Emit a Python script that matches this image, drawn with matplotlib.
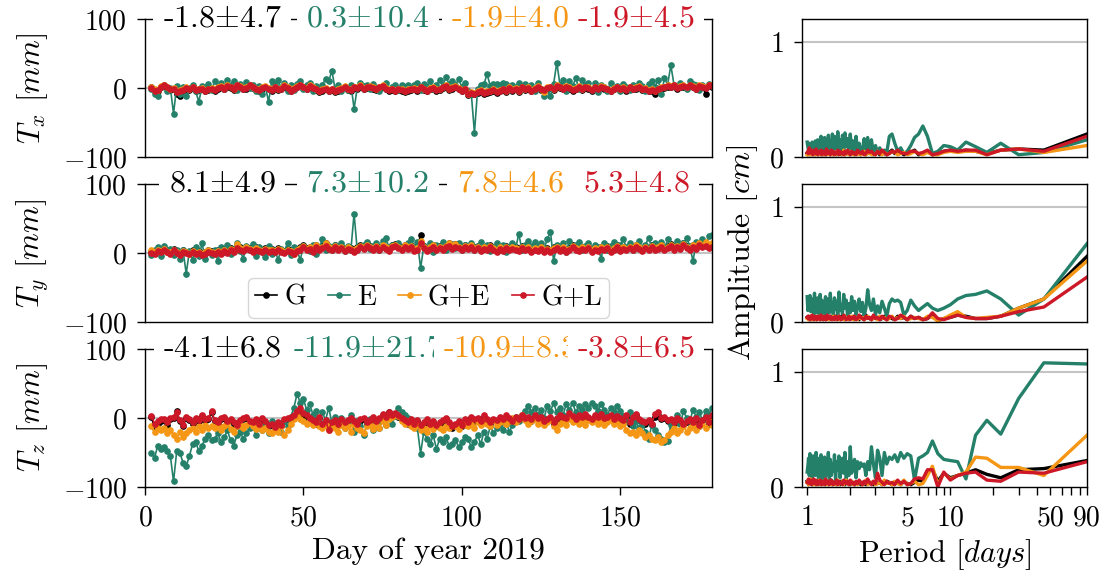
import numpy as np
import matplotlib
matplotlib.use("Agg")
import matplotlib.pyplot as plt
from matplotlib.ticker import FixedLocator, FixedFormatter, NullLocator

plt.rcParams.update({
    "font.family": "serif",
    "font.serif": ["cmr10"],
    "mathtext.fontset": "cm",
    "axes.formatter.use_mathtext": True,
    "font.size": 20,
    "axes.linewidth": 1.0,
})

labels = ["G", "E", "G+E", "G+L"]
colors = ["black", "#25806a", "#f59614", "#cd1828"]
first_day = 2

# ---- daily translations [mm], day 2 .. 179 ----
tx_g = [2, -3, -4, 1, 3, 0, -3, -2, -8, -11, -4, -1, -3, 0, -4, -3, -2, -5, -3, -2,
        -4, -1, 1, -2, 2, 0, -3, 3, 1, -2, -1, 4, 0, -3, -4, -1, 1, -2, -4, 0,
        -3, -2, 2, -1, -5, -2, 1, 4, 0, -2, 2, -1, -3, -6, -4, -2, -5, -3, -6, -4,
        -2, 1, -3, -4, 0, -1, 2, -2, 0, 1, -1, -3, 0, 2, -2, -4, -3, -5, -3, -4,
        -6, -4, -3, -2, -4, 0, -3, -5, -2, -1, -4, -3, 0, 2, -3, -1, 1, -2, -5, -3,
        -10, -8, -9, -7, -5, -8, -7, -6, -4, -7, -5, -3, -6, -1, -4, -2, -6, 0, -3, -1,
        -5, -2, 1, -3, -4, -1, 0, -3, 2, 0, -2, 1, -1, -4, -2, 1, -3, 0, -1, -4,
        0, -2, 1, -1, -3, -5, -2, 0, -3, -1, -4, 0, -2, -1, 1, -3, -2, -5, -4, -9,
        -3, -1, 0, 2, 1, 3, -1, 1, 2, 0, 3, 1, -2, 2, 1, -8, 3, 2]
tx_e = [-2, -8, -12, 2, 5, -5, 0, -37, 3, -8, 2, -12, 0, 5, -5, -20, 3, 0, 6, -3,
        10, 2, 8, -2, 12, 4, 10, -3, 6, 2, 9, 0, 5, -4, 3, -8, 2, -20, 10, 5,
        11, 0, 8, -5, 4, -3, 6, 10, -2, 5, 8, -4, 3, 0, 5, 13, 10, 25, -2, 4,
        -5, 2, -3, 5, -30, 0, 8, 3, 5, -2, 6, 0, -4, 3, 8, -1, 2, 5, -3, 4,
        1, 5, -2, 4, 8, -3, 6, 2, 10, -1, 4, 12, 3, 16, 6, 10, 4, 13, 2, 7,
        -5, -8, -65, -2, 4, 6, 20, 3, 6, 6, 5, 8, 6, -3, 5, 2, 8, -2, 6, 0,
        4, -5, 8, -2, -12, -3, -12, 6, 37, 5, 12, -4, 10, 3, 14, -2, 12, 5, 8, -3,
        8, -6, 4, 2, -5, 8, 0, 3, -4, 6, 2, -3, 5, 0, 8, 3, -4, 6, 10, 2,
        12, -8, 14, 5, 33, 5, 2, 8, 3, -2, 10, 6, 4, -3, 5, 2, 6, 3]
tx_ge = [1, -2, -3, 3, 5, 2, -1, 0, -4, -3, -2, 1, -1, 2, -2, -1, 0, -3, -1, 0,
         -2, 1, 3, 0, 4, 2, -1, 5, 3, 0, 1, 5, 2, -1, -2, 1, 3, 0, -2, 2,
         -1, 0, 4, 1, -3, 0, 3, 5, 2, 0, 4, 1, -1, -4, -2, 0, -3, -1, -4, -2,
         0, 3, -1, -2, 2, 1, 4, 0, 2, 3, 1, -1, 2, 4, 0, -2, -1, -3, -1, -2,
         -4, -2, -1, 0, -2, 2, -1, -3, 0, 1, -2, -1, 2, 4, -1, 1, 3, 0, -3, -1,
         -8, -6, -7, -5, -3, -6, -5, -4, -2, -5, -3, -1, -4, 1, -2, 0, -4, 2, -1, 1,
         -3, 0, 3, -1, -6, 1, 2, -1, 4, 2, 0, 3, 1, -2, 0, 3, -1, 2, 1, -2,
         2, 0, 3, 1, -1, -3, 0, 2, -1, 1, -2, 2, 0, 1, 3, -1, 0, -3, -2, -4,
         -1, 1, 2, 4, 3, 5, 1, 3, 4, 2, 5, 3, 0, 4, 3, 1, 5, 4]
tx_gl = [0, -4, -3, 2, 4, 1, -2, -1, -6, -5, -3, 0, -2, 1, -3, -2, -1, -4, -2, -1,
         -3, 0, 2, -1, 3, 1, -2, 4, 2, -1, 0, 5, 1, -2, -3, 0, 2, -1, -3, 1,
         -2, -1, 3, 0, -4, -1, 2, 5, 1, -1, 3, 0, -2, -5, -3, -1, -4, -2, -5, -3,
         -1, 2, -2, -3, 1, 0, 3, -1, 1, 2, 0, -2, 1, 3, -1, -3, -2, -4, -2, -3,
         -5, -3, -2, -1, -3, 1, -2, -4, -1, 0, -3, -2, 1, 3, -2, 0, 2, -1, -4, -2,
         -9, -7, -8, -6, -4, -7, -6, -5, -3, -6, -4, -2, -5, 0, -3, -1, -5, 1, -2, 0,
         -4, -1, 2, -2, -3, 0, 1, -2, 3, 1, -1, 2, 0, -3, -1, 2, -2, 1, 0, -3,
         1, -1, 2, 0, -2, -4, -1, 1, -2, 0, -3, 1, -1, 0, 2, -2, -1, -4, -3, -5,
         -2, 0, 1, 3, 2, 4, 0, 2, 3, 1, 4, 2, -1, 3, 2, 0, 4, 3]

ty_g = [2, 0, 6, 4, 7, 3, 2, 6, 3, -1, 4, 2, 0, 4, 1, 3, 0, 2, 5, 3,
        1, 4, 2, 6, 3, 7, 5, 10, 8, 6, 9, 7, 5, 8, 6, 4, 7, 5, 6, 4,
        7, 5, 3, 6, 4, 1, 6, 8, 11, 7, 9, 5, 12, 8, 10, 14, 9, 7, 11, 8,
        10, 6, 9, 7, 5, 8, 11, 9, 14, 10, 7, 11, 8, 12, 9, 6, 11, 13, 10, 8,
        12, 9, 11, 6, 8, 26, 10, 6, 9, 12, 7, 10, 8, 11, 14, 9, 13, 10, 7, 11,
        9, 12, 8, 10, 6, 9, 7, 11, 8, 5, 9, 6, 10, 7, 9, 8, 6, 10, 7, 9,
        5, 8, 6, 9, 4, 7, 5, 8, 10, 6, 9, 5, 7, 11, 8, 6, 9, 7, 10, 5,
        8, 6, 9, 7, 10, 4, 8, 11, 6, 9, 7, 10, 8, 12, 9, 6, 10, 7, 11, 8,
        9, 12, 7, 10, 13, 8, 11, 9, 14, 10, 7, 12, 9, 15, 11, 13, 10, 12]
ty_e = [-3, 5, 8, -5, 10, 2, 6, -3, 5, -8, 4, -30, 3, -10, 8, -5, 14, -8, 2, -3,
        5, -12, 8, 2, 12, -2, 6, 15, 3, -8, 10, 4, 13, -4, 8, 2, -6, 10, -2, 5,
        -10, 6, 2, 15, -3, 8, 4, -10, 10, 6, 3, 12, -2, 8, 20, 5, 10, 4, 12, 8,
        15, 3, 10, 5, 57, 4, 8, 12, 16, 6, 10, 14, 5, 18, 22, 8, 12, 10, 15, 6,
        10, 14, 20, 8, 16, -22, 10, 6, 14, 2, 12, 8, 16, 4, 10, 13, 7, 15, 5, 12,
        8, 14, 4, 10, 16, 6, 12, 3, 9, 15, 5, 11, 2, 8, 14, 6, 28, 4, 12, 18,
        10, 16, 8, 14, 6, 20, 31, -12, 12, 6, 14, 2, 18, 8, 12, 16, 4, 10, 14, 6,
        12, 8, -8, 14, 4, 10, 16, 6, 12, 20, 8, 14, 4, 10, 18, 6, 12, 22, 8, 14,
        10, 16, 6, 20, 12, 8, 18, 8, 14, 22, 10, -12, 16, 12, 20, 10, 24, 26]
ty_ge = [4, 1, 5, 3, 6, 2, 1, 5, 2, -2, 3, 1, -1, 3, 0, 2, -1, 1, 4, 2,
         0, 3, 1, 5, 2, 6, 4, 13, 7, 5, 8, 6, 4, 7, 5, 3, 6, 4, 5, 3,
         6, 4, 2, 5, 3, -1, 5, 7, 10, 6, 8, 4, 11, 7, 9, 15, 8, 6, 10, 7,
         9, 5, 8, 6, 4, 7, 10, 8, 12, 9, 6, 10, 7, 11, 8, 5, 10, 12, 9, 7,
         11, 8, 10, 5, 7, 18, 9, 5, 8, 11, 6, 9, 7, 10, 14, 8, 13, 9, 6, 10,
         8, 11, 7, 9, 5, 8, 6, 10, 7, 4, 8, 5, 9, 6, 8, 7, 5, 9, 6, 8,
         4, 7, 5, 8, 3, 6, 4, 7, 9, 5, 8, 4, 6, 10, 7, 5, 8, 6, 9, 4,
         7, 5, 8, 6, 9, 3, 7, 10, 5, 8, 6, 9, 7, 11, 8, 5, 9, 6, 10, 7,
         8, 11, 6, 9, 12, 7, 10, 8, 13, 9, 6, 11, 8, 14, 10, 16, 9, 15]
ty_gl = [0, -2, 3, 2, 5, 1, -1, 4, 0, -3, 2, 0, -2, 1, -2, 0, -3, -1, 2, 0,
         -2, 1, -1, 3, 0, 4, 2, 7, 5, 3, 6, 4, 2, 5, 3, 1, 4, 2, 3, 1,
         4, 2, 0, 3, 1, -2, 3, 5, 8, 4, 6, 2, 9, 5, 7, 10, 6, 4, 8, 5,
         7, 3, 6, 4, 2, 5, 8, 6, 10, 7, 4, 8, 5, 9, 6, 3, 8, 10, 7, 5,
         9, 6, 8, 3, 5, 15, 7, 3, 6, 9, 4, 7, 5, 8, 10, 6, 9, 7, 4, 8,
         6, 9, 5, 7, 3, 6, 4, 8, 5, 2, 6, 3, 7, 4, 6, 5, 3, 7, 4, 6,
         2, 5, 3, 6, 1, 4, 2, 5, 7, 3, 6, 2, 4, 8, 5, 3, 6, 4, 7, 2,
         5, 3, 6, 4, 7, 1, 5, 8, 3, 6, 4, 7, 5, 9, 6, 3, 7, 4, 8, 5,
         6, 9, 4, 7, 10, 5, 8, 6, 11, 7, 4, 9, 6, 12, 8, 10, 7, 9]

tz_g = [2, -15, -8, -5, -3, -10, -2, 0, 10, -5, -12, 0, -3, -8, -2, -5, 3, -4, -2, 8,
        -5, -8, -2, 0, -6, -3, -8, -12, -5, -2, 0, -6, -8, -4, -10, -2, -6, -12, -10, -15,
        -8, -12, -4, -2, 0, 2, 8, 10, 5, 2, -2, -5, -8, 0, -10, -5, -15, -8, -5, -10,
        -3, -8, -5, -2, -6, -10, -4, -2, -8, -5, -1, -6, -2, 5, 0, 8, 3, 6, 2, -2,
        -5, -8, -3, -10, -5, -12, -8, -4, -10, -6, -12, -8, -5, -2, -8, -15, -10, -6, -12, -4,
        -8, 0, -4, -2, -6, 2, -4, -8, -3, -5, 0, -4, 2, -2, -6, -1, -3, 3, -2, 0,
        -4, 2, -2, 0, -6, -3, -1, -8, -2, 3, 0, -2, 5, 1, -3, 2, -1, 4, 0, -3,
        2, -1, 4, -2, 0, 3, -4, 1, -2, -5, 2, -8, 0, 4, -3, -6, -8, -5, -10, 2,
        4, -2, 0, -5, -3, -8, -2, -5, -10, -6, -3, -8, -2, -12, -5, 0, -8, 3]
tz_e = [-50, -58, -40, -45, -42, -48, -55, -92, -48, -50, -65, -70, -55, -38, -35, -48, -40, -30, -25, -32,
        -30, -22, -35, -28, -18, -32, -40, -25, -20, -30, -22, -15, -10, -25, -8, -18, -12, -22, -5, -15,
        -10, -20, -5, -12, 2, 15, 35, 22, 28, 12, 20, 5, 10, -5, 8, -3, 15, -8, 2, -10,
        0, -15, -8, 5, -20, -5, -12, -25, -10, -2, -18, -5, -15, 0, -10, 5, -8, 3, 15, 8,
        5, 0, -3, -10, -15, -52, -20, -30, -38, -25, -45, -30, -35, -28, -40, -38, -32, -42, -35, -28,
        -30, -42, -35, -25, -38, -20, -30, -12, -22, -15, -8, -18, -5, -20, -10, 2, -5, 5, 10, 18,
        8, 15, 5, 12, 0, 18, 10, 22, 8, 15, 5, 20, 12, 22, 8, 18, 12, 20, 15, 22,
        18, 10, 20, 12, 5, 15, 8, 18, 10, 3, -5, 8, -12, -5, -15, -8, -20, -30, -10, -18,
        -25, -30, -35, -33, -10, -5, 5, -8, 10, 0, -5, 12, 2, 8, -3, 10, 5, 15]
tz_ge = [-12, -20, -15, -18, -14, -22, -18, -25, -30, -20, -28, -22, -18, -15, -20, -12, -18, -10, -15, -12,
         -14, -10, -18, -12, -8, -16, -20, -12, -8, -14, -10, -6, -12, -16, -10, -18, -14, -20, -22, -16,
         -20, -12, -25, -18, -8, -2, 5, -2, -5, -8, -3, -10, -6, -12, -15, -10, -18, -8, -14, -20,
         -10, -15, -12, -20, -8, -14, -18, -22, -12, -10, -16, -8, -14, -5, -10, -2, 2, 5, 3, -5,
         -8, -5, -12, -15, -10, -18, -14, -20, -12, -16, -10, -14, -18, -12, -15, -10, -12, -16, -8, -10,
         -12, -8, -14, -6, -10, -5, -8, -12, -3, -10, -6, -2, -8, -4, 0, -6, -2, 5, -3, -8,
         -5, -2, -8, -4, -10, -6, -3, -12, -18, -8, -4, -10, -2, -6, -3, -8, -5, -10, -3, -6,
         -2, -8, -4, -10, -6, -3, -9, -5, -12, -8, -18, -22, -20, -25, -18, -22, -28, -25, -30, -32,
         -28, -35, -32, -25, -20, -15, -22, -18, -12, -20, -15, -10, -18, -12, -8, -15, -5, -10]
tz_gl = [3, -8, -5, -2, -1, -6, 0, 2, 8, -3, -10, 1, -2, -6, 0, -3, 4, -2, 0, 10,
         -3, -6, 0, 2, -4, -1, -6, -10, -3, 0, 2, -4, -6, -2, -8, 0, -4, -10, -8, -13,
         -6, -10, -2, 0, 2, 5, 10, 14, 7, 4, 0, -3, -6, 2, -8, -3, -18, -6, -3, -8,
         -1, -6, -3, 0, -4, -8, -2, 0, -6, -3, 1, -4, 0, 6, 2, 9, 5, 7, 4, 0,
         -3, -6, -1, -8, -3, -10, -6, -2, -8, -4, -10, -6, -3, 0, -6, -12, -8, -4, -10, -2,
         -6, 2, -2, 0, -4, 4, -2, -6, -1, -3, 2, -2, 4, 0, -4, 1, -1, 5, 0, 2,
         -2, 4, 0, 2, -4, -1, 1, -6, 0, 5, 2, 0, 7, 3, -1, 4, 1, 6, 2, -1,
         4, 1, 6, 0, 2, 5, -2, 3, 0, -3, 4, -6, 2, 6, -1, -4, -6, -3, -8, 6,
         8, 0, 2, -3, -1, -6, 0, -3, -8, -4, -1, -6, 0, -10, -3, 2, -6, 5]

titles = [["-1.8$\\pm$4.7", "0.3$\\pm$10.4", "-1.9$\\pm$4.0", "-1.9$\\pm$4.5"],
          ["8.1$\\pm$4.9", "7.3$\\pm$10.2", "7.8$\\pm$4.6", "5.3$\\pm$4.8"],
          ["-4.1$\\pm$6.8", "-11.9$\\pm$21.7", "-10.9$\\pm$8.3", "-3.8$\\pm$6.5"]]

# ---- amplitude spectra [cm], harmonic k = 1..90 of a 90 day window ----
base_period = 90.0
ax_g = [0.20, 0.06, 0.07, 0.06, 0.03, 0.05, 0.06, 0.05, 0.06, 0.05,
        0.03, 0.02, 0.05, 0.03, 0.02, 0.06, 0.04, 0.03, 0.02, 0.04,
        0.05, 0.03, 0.06, 0.04, 0.02, 0.03, 0.05, 0.02, 0.04, 0.03,
        0.02, 0.04, 0.03, 0.05, 0.02, 0.03, 0.04, 0.02, 0.03, 0.05,
        0.03, 0.02, 0.04, 0.03, 0.02, 0.04, 0.03, 0.05, 0.02, 0.03,
        0.04, 0.02, 0.03, 0.05, 0.03, 0.02, 0.04, 0.03, 0.02, 0.04,
        0.03, 0.02, 0.05, 0.03, 0.04, 0.02, 0.03, 0.04, 0.02, 0.03,
        0.05, 0.02, 0.03, 0.04, 0.02, 0.03, 0.05, 0.03, 0.02, 0.04,
        0.03, 0.02, 0.04, 0.03, 0.05, 0.02, 0.03, 0.04, 0.02, 0.03]
ax_e = [0.15, 0.04, 0.02, 0.12, 0.04, 0.09, 0.13, 0.06, 0.09, 0.10,
        0.05, 0.03, 0.18, 0.27, 0.20, 0.17, 0.10, 0.05, 0.03, 0.08,
        0.05, 0.12, 0.20, 0.18, 0.04, 0.06, 0.03, 0.08, 0.04, 0.10,
        0.03, 0.15, 0.05, 0.17, 0.04, 0.16, 0.06, 0.03, 0.12, 0.05,
        0.18, 0.04, 0.14, 0.07, 0.20, 0.05, 0.16, 0.09, 0.21, 0.06,
        0.19, 0.04, 0.15, 0.08, 0.22, 0.05, 0.12, 0.18, 0.07, 0.20,
        0.04, 0.14, 0.09, 0.19, 0.06, 0.11, 0.03, 0.17, 0.08, 0.13,
        0.05, 0.18, 0.07, 0.12, 0.04, 0.15, 0.09, 0.06, 0.14, 0.03,
        0.11, 0.07, 0.13, 0.05, 0.10, 0.04, 0.12, 0.06, 0.09, 0.13]
ax_ge = [0.10, 0.04, 0.07, 0.06, 0.02, 0.05, 0.05, 0.04, 0.05, 0.04,
         0.02, 0.02, 0.04, 0.02, 0.03, 0.05, 0.03, 0.02, 0.04, 0.03,
         0.02, 0.04, 0.05, 0.03, 0.02, 0.04, 0.02, 0.03, 0.05, 0.02,
         0.03, 0.02, 0.04, 0.03, 0.02, 0.05, 0.03, 0.02, 0.04, 0.02,
         0.03, 0.04, 0.02, 0.03, 0.05, 0.02, 0.03, 0.04, 0.02, 0.06,
         0.02, 0.03, 0.04, 0.02, 0.03, 0.05, 0.02, 0.04, 0.03, 0.02,
         0.04, 0.02, 0.03, 0.05, 0.02, 0.03, 0.04, 0.02, 0.03, 0.02,
         0.04, 0.03, 0.02, 0.05, 0.03, 0.02, 0.04, 0.02, 0.03, 0.04,
         0.02, 0.03, 0.05, 0.02, 0.04, 0.03, 0.02, 0.04, 0.03, 0.02]
ax_gl = [0.18, 0.05, 0.07, 0.06, 0.02, 0.06, 0.06, 0.05, 0.06, 0.05,
         0.03, 0.02, 0.06, 0.04, 0.03, 0.05, 0.05, 0.03, 0.03, 0.04,
         0.06, 0.04, 0.05, 0.03, 0.02, 0.04, 0.06, 0.03, 0.05, 0.02,
         0.03, 0.05, 0.04, 0.06, 0.03, 0.02, 0.05, 0.03, 0.04, 0.06,
         0.02, 0.04, 0.03, 0.05, 0.02, 0.04, 0.06, 0.03, 0.05, 0.02,
         0.04, 0.03, 0.05, 0.02, 0.06, 0.03, 0.04, 0.02, 0.05, 0.03,
         0.06, 0.02, 0.04, 0.05, 0.03, 0.07, 0.02, 0.04, 0.03, 0.05,
         0.02, 0.06, 0.03, 0.04, 0.05, 0.02, 0.04, 0.07, 0.03, 0.05,
         0.04, 0.02, 0.06, 0.03, 0.05, 0.04, 0.08, 0.03, 0.05, 0.04]

ay_g = [0.57, 0.20, 0.12, 0.05, 0.03, 0.03, 0.05, 0.06, 0.04, 0.03,
        0.01, 0.06, 0.03, 0.02, 0.04, 0.03, 0.05, 0.02, 0.04, 0.03,
        0.05, 0.02, 0.03, 0.04, 0.02, 0.05, 0.03, 0.02, 0.04, 0.03,
        0.05, 0.02, 0.03, 0.04, 0.06, 0.02, 0.03, 0.05, 0.02, 0.04,
        0.03, 0.02, 0.05, 0.03, 0.04, 0.02, 0.03, 0.05, 0.02, 0.04,
        0.03, 0.05, 0.02, 0.04, 0.03, 0.02, 0.05, 0.03, 0.04, 0.02,
        0.03, 0.05, 0.02, 0.04, 0.03, 0.05, 0.02, 0.03, 0.04, 0.02,
        0.05, 0.03, 0.02, 0.04, 0.03, 0.05, 0.02, 0.04, 0.03, 0.02,
        0.04, 0.03, 0.05, 0.02, 0.03, 0.04, 0.02, 0.05, 0.03, 0.04]
ay_e = [0.68, 0.20, 0.06, 0.20, 0.27, 0.24, 0.23, 0.20, 0.15, 0.12,
        0.10, 0.12, 0.16, 0.13, 0.10, 0.14, 0.19, 0.10, 0.06, 0.17,
        0.19, 0.18, 0.20, 0.16, 0.05, 0.12, 0.18, 0.08, 0.14, 0.06,
        0.20, 0.10, 0.15, 0.28, 0.12, 0.05, 0.17, 0.09, 0.20, 0.13,
        0.06, 0.18, 0.10, 0.22, 0.08, 0.16, 0.05, 0.19, 0.12, 0.24,
        0.07, 0.15, 0.10, 0.26, 0.06, 0.18, 0.11, 0.21, 0.05, 0.17,
        0.09, 0.25, 0.08, 0.14, 0.20, 0.06, 0.22, 0.12, 0.16, 0.05,
        0.19, 0.10, 0.24, 0.07, 0.15, 0.21, 0.08, 0.18, 0.11, 0.25,
        0.06, 0.20, 0.13, 0.17, 0.09, 0.23, 0.14, 0.18, 0.10, 0.22]
ay_ge = [0.53, 0.20, 0.12, 0.05, 0.04, 0.03, 0.04, 0.09, 0.06, 0.03,
         0.01, 0.04, 0.05, 0.02, 0.03, 0.04, 0.03, 0.02, 0.05, 0.03,
         0.04, 0.02, 0.05, 0.03, 0.02, 0.04, 0.03, 0.05, 0.02, 0.04,
         0.03, 0.02, 0.04, 0.05, 0.03, 0.02, 0.04, 0.03, 0.05, 0.02,
         0.04, 0.03, 0.02, 0.05, 0.03, 0.04, 0.02, 0.03, 0.05, 0.02,
         0.04, 0.03, 0.02, 0.05, 0.03, 0.02, 0.04, 0.03, 0.05, 0.02,
         0.03, 0.04, 0.02, 0.05, 0.03, 0.02, 0.04, 0.03, 0.02, 0.05,
         0.03, 0.04, 0.02, 0.03, 0.05, 0.02, 0.04, 0.03, 0.02, 0.04,
         0.05, 0.02, 0.03, 0.04, 0.02, 0.05, 0.03, 0.02, 0.04, 0.03]
ay_gl = [0.39, 0.13, 0.09, 0.05, 0.03, 0.03, 0.04, 0.06, 0.04, 0.02,
         0.03, 0.08, 0.03, 0.02, 0.04, 0.03, 0.05, 0.02, 0.04, 0.06,
         0.03, 0.02, 0.04, 0.05, 0.02, 0.03, 0.05, 0.02, 0.04, 0.03,
         0.06, 0.02, 0.04, 0.03, 0.05, 0.02, 0.03, 0.04, 0.06, 0.03,
         0.02, 0.05, 0.03, 0.04, 0.02, 0.05, 0.03, 0.02, 0.04, 0.06,
         0.03, 0.02, 0.04, 0.05, 0.02, 0.03, 0.05, 0.02, 0.04, 0.03,
         0.02, 0.05, 0.03, 0.04, 0.06, 0.02, 0.03, 0.05, 0.02, 0.04,
         0.03, 0.06, 0.02, 0.04, 0.03, 0.05, 0.02, 0.04, 0.05, 0.03,
         0.02, 0.04, 0.06, 0.03, 0.05, 0.02, 0.04, 0.03, 0.05, 0.04]

az_g = [0.23, 0.16, 0.15, 0.08, 0.11, 0.15, 0.12, 0.10, 0.08, 0.12,
        0.05, 0.15, 0.14, 0.05, 0.06, 0.04, 0.02, 0.03, 0.05, 0.02,
        0.04, 0.03, 0.02, 0.04, 0.05, 0.03, 0.02, 0.04, 0.03, 0.05,
        0.02, 0.04, 0.03, 0.06, 0.02, 0.03, 0.04, 0.02, 0.05, 0.03,
        0.04, 0.02, 0.03, 0.05, 0.02, 0.04, 0.03, 0.06, 0.02, 0.04,
        0.03, 0.05, 0.02, 0.04, 0.03, 0.02, 0.05, 0.03, 0.04, 0.02,
        0.06, 0.03, 0.04, 0.02, 0.05, 0.03, 0.02, 0.04, 0.05, 0.03,
        0.02, 0.04, 0.06, 0.03, 0.02, 0.05, 0.03, 0.04, 0.02, 0.05,
        0.03, 0.04, 0.02, 0.06, 0.03, 0.04, 0.05, 0.02, 0.04, 0.05]
az_e = [1.07, 1.08, 0.77, 0.46, 0.58, 0.45, 0.07, 0.22, 0.23, 0.24,
        0.29, 0.40, 0.30, 0.27, 0.25, 0.06, 0.27, 0.29, 0.25, 0.30,
        0.22, 0.28, 0.24, 0.26, 0.20, 0.30, 0.10, 0.25, 0.32, 0.08,
        0.20, 0.35, 0.15, 0.22, 0.10, 0.20, 0.18, 0.21, 0.16, 0.22,
        0.08, 0.24, 0.18, 0.12, 0.35, 0.10, 0.22, 0.05, 0.30, 0.12,
        0.25, 0.18, 0.08, 0.27, 0.15, 0.22, 0.06, 0.28, 0.14, 0.20,
        0.10, 0.24, 0.07, 0.30, 0.16, 0.21, 0.09, 0.26, 0.12, 0.19,
        0.05, 0.28, 0.15, 0.22, 0.08, 0.25, 0.13, 0.30, 0.10, 0.20,
        0.14, 0.27, 0.07, 0.23, 0.16, 0.29, 0.10, 0.25, 0.18, 0.13]
az_ge = [0.45, 0.10, 0.17, 0.17, 0.25, 0.26, 0.13, 0.10, 0.07, 0.12,
         0.02, 0.18, 0.10, 0.03, 0.02, 0.05, 0.03, 0.02, 0.06, 0.02,
         0.03, 0.05, 0.02, 0.04, 0.03, 0.06, 0.02, 0.04, 0.03, 0.02,
         0.05, 0.03, 0.04, 0.02, 0.06, 0.03, 0.02, 0.04, 0.05, 0.02,
         0.03, 0.04, 0.02, 0.05, 0.03, 0.02, 0.04, 0.06, 0.03, 0.02,
         0.05, 0.03, 0.04, 0.02, 0.06, 0.03, 0.02, 0.04, 0.03, 0.05,
         0.02, 0.04, 0.03, 0.05, 0.02, 0.04, 0.06, 0.03, 0.02, 0.05,
         0.03, 0.04, 0.02, 0.06, 0.03, 0.05, 0.02, 0.04, 0.03, 0.06,
         0.02, 0.05, 0.03, 0.04, 0.07, 0.03, 0.05, 0.02, 0.06, 0.04]
az_gl = [0.22, 0.12, 0.13, 0.05, 0.06, 0.13, 0.12, 0.10, 0.06, 0.13,
         0.00, 0.15, 0.15, 0.07, 0.08, 0.07, 0.03, 0.02, 0.05, 0.03,
         0.06, 0.02, 0.04, 0.03, 0.05, 0.02, 0.04, 0.06, 0.12, 0.03,
         0.05, 0.02, 0.04, 0.07, 0.03, 0.05, 0.02, 0.04, 0.06, 0.03,
         0.05, 0.02, 0.04, 0.03, 0.06, 0.02, 0.05, 0.03, 0.04, 0.06,
         0.02, 0.04, 0.03, 0.05, 0.02, 0.06, 0.03, 0.04, 0.02, 0.05,
         0.03, 0.06, 0.02, 0.04, 0.05, 0.03, 0.07, 0.02, 0.04, 0.03,
         0.05, 0.02, 0.06, 0.03, 0.04, 0.05, 0.02, 0.06, 0.03, 0.04,
         0.07, 0.03, 0.05, 0.02, 0.06, 0.04, 0.03, 0.07, 0.05, 0.04]

series = [[tx_g, tx_e, tx_ge, tx_gl], [ty_g, ty_e, ty_ge, ty_gl], [tz_g, tz_e, tz_ge, tz_gl]]
spectra = [[ax_g, ax_e, ax_ge, ax_gl], [ay_g, ay_e, ay_ge, ay_gl], [az_g, az_e, az_ge, az_gl]]
ylabels = ["$T_x$ $[mm]$", "$T_y$ $[mm]$", "$T_z$ $[mm]$"]
title_x = [0.136, 0.393, 0.644, 0.866]

fig = plt.figure(figsize=(11.08, 5.79), dpi=100)
bottoms = [0.7288, 0.4439, 0.1589]
height = 0.2383

for i in range(3):
    ax = fig.add_axes([0.1309, bottoms[i], 0.5117, height])
    ax.axhline(0, color="#c4c4c4", lw=1.5, zorder=1)
    for vals, lab, c in zip(series[i], labels, colors):
        d = np.arange(first_day, first_day + len(vals))
        ax.plot(d, vals, "-o", color=c, lw=1.2, ms=3.8, label=lab, zorder=2)
    ax.set_xlim(0, 179)
    ax.set_ylim(-100, 100)
    ax.set_yticks([-100, 0, 100])
    ax.tick_params(direction="out", length=6, width=1.0, pad=7, labelsize=20)
    ax.set_ylabel(ylabels[i], fontsize=22)
    ax.yaxis.set_label_coords(-0.168, 0.5)
    for s, c, xf in zip(titles[i], colors, title_x):
        ax.text(xf, 1.0, s, transform=ax.transAxes, ha="center", va="center",
                color=c, fontsize=23, zorder=5,
                bbox=dict(boxstyle="square,pad=0.3", fc="white", ec="none"))
    if i < 2:
        ax.tick_params(axis="x", bottom=False, labelbottom=False)
    else:
        ax.set_xticks([0, 50, 100, 150])
        ax.set_xlabel("Day of year 2019", fontsize=22.5)
    if i == 1:
        ax.legend(loc="lower center", ncol=4, fontsize=20, handlelength=0.8,
                  handletextpad=0.25, columnspacing=0.8, borderpad=0.25,
                  borderaxespad=0.15, markerscale=1.0)

    # amplitude spectrum
    bx = fig.add_axes([0.7238, bottoms[i], 0.2572, height])
    bx.axhline(1, color="#c4c4c4", lw=1.5, zorder=1)
    for amp, c in zip(spectra[i], colors):
        per = base_period / np.arange(1, len(amp) + 1)
        bx.plot(per, amp, color=c, lw=2.4, zorder=2)
    bx.set_xscale("log")
    bx.set_xlim(0.92, 90)
    bx.set_ylim(0, 1.2)
    bx.set_yticks([0, 1])
    bx.xaxis.set_minor_locator(NullLocator())
    bx.tick_params(direction="out", length=6, width=1.0, pad=7, labelsize=20)
    if i < 2:
        bx.xaxis.set_major_locator(NullLocator())
        bx.tick_params(axis="x", bottom=False, labelbottom=False)
    else:
        tick_pos = [1, 2, 3, 4, 5, 6, 7, 8, 9, 10, 20, 30, 40, 50, 60, 70, 80, 90]
        tick_lab = ["1", "", "", "", "5", "", "", "", "", "10", "", "", "", "50", "", "", "", "90"]
        bx.xaxis.set_major_locator(FixedLocator(tick_pos))
        bx.xaxis.set_major_formatter(FixedFormatter(tick_lab))
        bx.set_xlabel("Period $[days]$", fontsize=22)
    if i == 1:
        bx.set_ylabel("Amplitude $[cm]$", fontsize=23)
        bx.yaxis.set_label_coords(-0.147, 0.5)

fig.savefig("out.png", dpi=100)
